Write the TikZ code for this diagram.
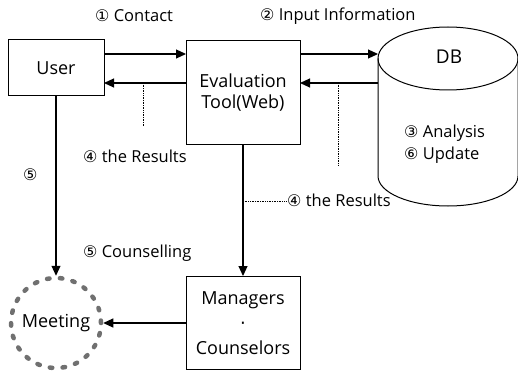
\documentclass[tikz,border=0pt]{standalone}
\usepackage{fontspec}
\setmainfont{Open Sans}
\newfontfamily\circf{DejaVu Sans}
\usetikzlibrary{arrows.meta}
\definecolor{dotgray}{HTML}{707070}
\newcommand{\cn}[1]{{\circf\fontsize{16}{16}\selectfont #1}}
\begin{document}
\begin{tikzpicture}[x=1pt,y=-1pt,
  box/.style={draw,line width=1pt,inner sep=0pt,align=center,font=\fontsize{18}{21}\selectfont},
  lbl/.style={font=\fontsize{16.5}{19}\selectfont,inner sep=0pt,anchor=west},
  arr/.style={line width=1.1pt,-{Triangle[length=10pt,width=9pt]}},
  dot/.style={densely dotted,line width=0.7pt}]
\useasboundingbox (0,0) rectangle (518,374);
\fill[white] (0,0) rectangle (518,374);
% boxes
\node[box,minimum width=96pt,minimum height=56pt] (user) at (56,68) {User};
\node[box,minimum width=114pt,minimum height=103pt] (eval) at (243,92.5) {Evaluation\\Tool(Web)};
\node[box,minimum width=114pt,minimum height=93pt,font=\fontsize{18}{25}\selectfont] (mgr) at (243,323) {Managers\\{\circf ·}\\Counselors};
% DB cylinder
\draw[line width=1pt] (448,58.5) ellipse [x radius=70,y radius=31.5];
\draw[line width=1pt] (378,58.5) -- (378,176) arc[start angle=180,end angle=360,x radius=70,y radius=-30] -- (518,58.5);
\node[font=\fontsize{19}{22}\selectfont] (db) at (449,57) {DB};
\node[lbl] (an) at (404,133) {\cn{③} Analysis};
\node[lbl] (up) at (404,155) {\cn{⑥} Update};
% meeting
\node[circle,draw=dotgray,line width=4.5pt,dash pattern=on 2.5pt off 10.36pt,line cap=round,minimum size=90pt,inner sep=0pt,font=\fontsize{18}{21}\selectfont] (meet) at (56,323) {Meeting};
% arrows
\coordinate (u1) at (104,54); \coordinate (e1) at (186,54);
\draw[arr] (u1) -- (e1);
\coordinate (u2) at (104,83); \coordinate (e2) at (186,83);
\draw[arr] (e2) -- (u2);
\coordinate (e3) at (300,54); \coordinate (d1) at (378,54);
\draw[arr] (e3) -- (d1);
\coordinate (e4) at (300,83); \coordinate (d2) at (378,83);
\draw[arr] (d2) -- (e4);
\draw[arr] (user.south) -- (meet.north);
\draw[arr] (eval.south) -- (mgr.north);
\draw[arr] (mgr.west) -- (meet.east);
% dotted
\coordinate (p1) at (143,83); \coordinate (p1b) at (143,127);
\draw[dot] (p1) -- (p1b);
\coordinate (p2) at (338,83); \coordinate (p2b) at (338,165);
\draw[dot] (p2) -- (p2b);
\coordinate (p3) at (243,201); \coordinate (p3b) at (286,201);
\draw[dot] (p3) -- (p3b);
% labels
\node[lbl] (l1) at (95,16) {\cn{①} Contact};
\node[lbl] (l2) at (260,16) {\cn{②} Input Information};
\node[lbl] (l4a) at (83,156) {\cn{④} the Results};
\node[lbl] (l4b) at (287,200) {\cn{④} the Results};
\node[lbl] (l5) at (23,175) {\cn{⑤}};
\node[lbl] (l5b) at (83,253) {\cn{⑤} Counselling};
\end{tikzpicture}
\end{document}
